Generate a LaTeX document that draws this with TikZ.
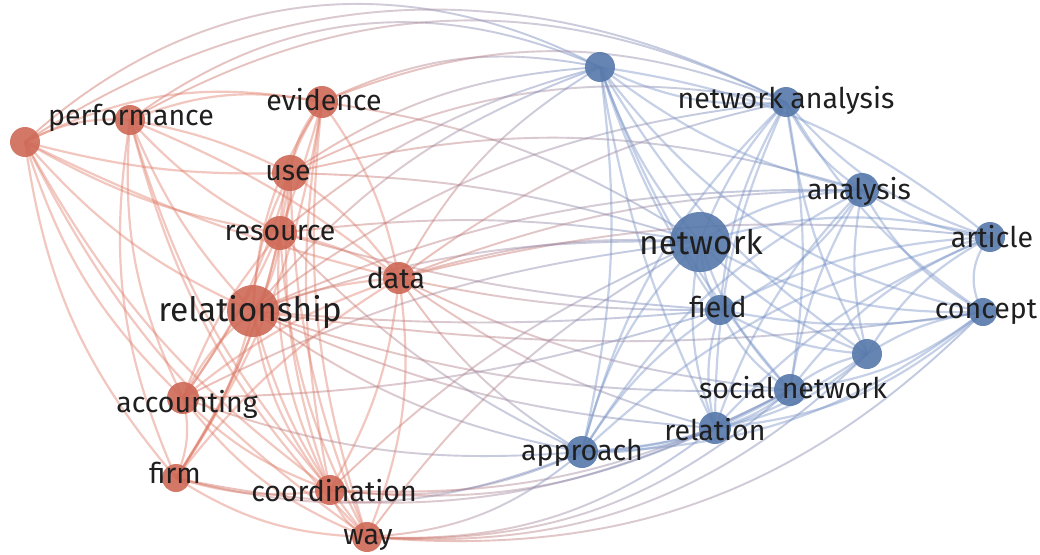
\documentclass[tikz,border=0pt]{standalone}
\usepackage{fontspec}
\setmainfont{Fira Sans}
\usepackage{xcolor}
\usetikzlibrary{fadings}
\definecolor{rednode}{RGB}{206,104,86}
\definecolor{bluenode}{RGB}{86,120,170}
\definecolor{rededge}{RGB}{222,122,102}
\definecolor{blueedge}{RGB}{118,146,198}

\begin{document}
\begin{tikzpicture}[x=1pt,y=-1pt,
  rdot/.style={circle,fill=rednode,fill opacity=.9,inner sep=0pt,minimum size=#1},
  bdot/.style={circle,fill=bluenode,fill opacity=.9,inner sep=0pt,minimum size=#1},
  redl/.style={draw=rededge,line width=2.2pt,draw opacity=.42},
  bluel/.style={draw=blueedge,line width=2.2pt,draw opacity=.42},
  lab/.style={font=\fontsize{28.5}{32}\selectfont,text=black!88,inner sep=0pt},
  biglab/.style={font=\fontsize{33.5}{38}\selectfont,text=black!88,inner sep=0pt}]
\useasboundingbox (0,0) rectangle (1040,554);

\coordinate (pz)   at (25,142);
\coordinate (perf) at (130,120);
\coordinate (evid) at (322,102);
\coordinate (use)  at (290,173);
\coordinate (res)  at (280,233);
\coordinate (data) at (399,278);
\coordinate (rel)  at (253,311);
\coordinate (acc)  at (183,398);
\coordinate (firm) at (176,478);
\coordinate (coor) at (330,490);
\coordinate (way)  at (367,537);

\coordinate (bz)   at (600,67);
\coordinate (na)   at (786,102);
\coordinate (ana)  at (862,190);
\coordinate (net)  at (700,242);
\coordinate (art)  at (990,237);
\coordinate (fld)  at (720,310);
\coordinate (con)  at (983,312);
\coordinate (bq)   at (867,354);
\coordinate (sn)   at (790,390);
\coordinate (rln)  at (715,428);
\coordinate (appr) at (582,452);

\foreach \a/\b/\c in {pz/perf/15,pz/evid/18,pz/use/-8,pz/res/-10,pz/rel/-12,pz/data/-6,
  pz/acc/-14,pz/firm/-16,pz/coor/-12,pz/way/-14,
  perf/evid/16,perf/use/8,perf/res/-10,perf/rel/-10,perf/data/8,perf/acc/-15,
  perf/firm/-16,perf/coor/-12,perf/way/-15,
  use/evid/15,res/evid/15,rel/evid/15,evid/data/12,acc/evid/-10,firm/evid/-12,
  evid/coor/-10,evid/way/-12,
  use/res/15,rel/use/12,use/data/10,acc/use/-10,firm/use/-12,use/coor/-12,use/way/-10,
  rel/res/-15,res/data/10,acc/res/10,firm/res/-10,res/coor/-15,res/way/-12,
  rel/data/8,acc/data/10,firm/data/10,coor/data/-12,way/data/-15,
  acc/rel/12,firm/rel/-10,rel/coor/-15,rel/way/-12,
  firm/acc/-18,acc/coor/-12,acc/way/-15,
  firm/coor/-12,firm/way/-15,coor/way/-20}
  \draw[redl] (\a) to[bend left=\c] (\b);

\foreach \a/\b/\c in {bz/na/-15,bz/ana/-12,bz/net/-10,bz/art/15,bz/fld/-8,bz/con/-20,
  bz/bq/-12,bz/sn/-10,bz/rln/-8,bz/appr/10,
  na/ana/-15,net/na/10,na/art/-15,fld/na/12,na/con/-12,na/bq/-10,sn/na/-10,rln/na/12,
  appr/na/15,
  net/ana/15,ana/art/-12,fld/ana/-15,ana/con/-15,ana/bq/-12,sn/ana/10,rln/ana/12,
  appr/ana/15,
  net/art/15,net/fld/-12,net/con/-15,net/bq/-12,net/sn/-12,net/rln/-15,appr/net/15,
  art/con/-35,fld/art/12,bq/art/15,sn/art/15,rln/art/12,appr/art/15,
  fld/con/-10,fld/bq/-12,fld/sn/-15,rln/fld/15,appr/fld/12,
  bq/con/12,sn/con/-15,rln/con/-18,appr/con/-18,
  sn/bq/12,rln/bq/-15,appr/bq/-15,
  rln/sn/-12,appr/sn/-14,appr/rln/-12}
  \draw[bluel] (\a) to[bend left=\c] (\b);

\foreach \a/\b/\c in {pz/bz/35,pz/na/30,perf/bz/30,perf/na/28,evid/bz/18,evid/na/22,
  evid/net/12,use/bz/15,use/na/18,use/net/8,use/ana/15,res/net/8,res/bz/12,res/fld/-6,
  res/appr/-10,data/net/10,data/fld/-6,data/appr/-12,data/bz/15,data/na/12,data/rln/-10,
  data/sn/-10,data/ana/10,data/art/10,rel/net/10,rel/fld/-5,rel/appr/-12,rel/rln/-10,
  rel/sn/-10,rel/na/15,rel/ana/12,rel/bz/15,rel/con/-8,acc/net/10,acc/appr/-12,
  acc/fld/-8,coor/appr/-15,coor/rln/-15,coor/net/10,coor/sn/-15,way/appr/-18,
  way/rln/-20,way/sn/-22,way/con/-25,way/bq/-24,way/net/12,firm/appr/-18,firm/sn/-20}
  {\draw[redl,line width=1.9pt,draw opacity=.5,path fading=east] (\a) to[bend left=\c] (\b);
   \draw[bluel,line width=1.9pt,draw opacity=.5,path fading=west] (\a) to[bend left=\c] (\b);}

\node[rdot=30pt] (pzdot) at (pz) {};
\node[rdot=30pt] (perfdot) at (perf) {};
\node[rdot=32pt] (eviddot) at (evid) {};
\node[rdot=36pt] (usedot) at (use) {};
\node[rdot=34pt] (resdot) at (res) {};
\node[rdot=32pt] (datadot) at (data) {};
\node[rdot=52pt] (reldot) at (rel) {};
\node[rdot=32pt] (accdot) at (acc) {};
\node[rdot=28pt] (firmdot) at (firm) {};
\node[rdot=30pt] (coordot) at (coor) {};
\node[rdot=30pt] (waydot) at (way) {};

\node[bdot=30pt] (bzdot) at (bz) {};
\node[bdot=30pt] (nadot) at (na) {};
\node[bdot=34pt] (anadot) at (ana) {};
\node[bdot=60pt] (netdot) at (net) {};
\node[bdot=30pt] (artdot) at (art) {};
\node[bdot=30pt] (flddot) at (fld) {};
\node[bdot=28pt] (condot) at (con) {};
\node[bdot=30pt] (bqdot) at (bq) {};
\node[bdot=32pt] (sndot) at (sn) {};
\node[bdot=32pt] (rlndot) at (rln) {};
\node[bdot=32pt] (apprdot) at (appr) {};

\node[lab] (perflab) at (131,118) {performance};
\node[lab] (evidlab) at (324,100) {evidence};
\node[lab] (uselab) at (288,173) {use};
\node[lab] (reslab) at (280,233) {resource};
\node[lab] (datalab) at (396,278) {data};
\node[biglab] (rellab) at (250,312) {relationship};
\node[lab] (acclab) at (187,404) {accounting};
\node[lab] (firmlab) at (175,473) {firm};
\node[lab] (coorlab) at (334,491) {coordination};
\node[lab] (waylab) at (368,540) {way};

\node[lab] (nalab) at (786,100) {network analysis};
\node[lab] (analab) at (859,191) {analysis};
\node[biglab] (netlab) at (701,242) {network};
\node[lab] (artlab) at (992,237) {article};
\node[lab] (fldlab) at (718,307) {field};
\node[lab] (conlab) at (986,312) {concept};
\node[lab] (snlab) at (793,388) {social network};
\node[lab] (rlnlab) at (715,430) {relation};
\node[lab] (apprlab) at (582,453) {approach};
\end{tikzpicture}
\end{document}
